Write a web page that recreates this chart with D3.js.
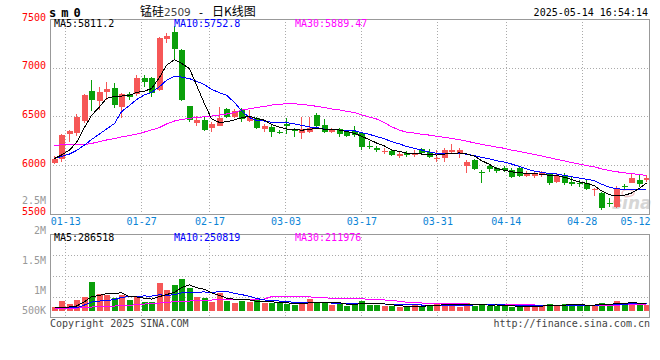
<!DOCTYPE html>
<html>
<head>
<meta charset="utf-8">
<title>锰硅2509 日K线图</title>
<script src="https://cdn.jsdelivr.net/npm/d3@7/dist/d3.min.js"></script>
<style>
    body { margin: 0; background: #fff; }
    text { font-family: "DejaVu Sans Mono", monospace; font-size: 10px; }
</style>
</head>
<body>
<div id="chart"></div>
<script>
//----------------------------DATA------------------------------//
var dates = ["01-09","01-10","01-13","01-14","01-15","01-16","01-17","01-20","01-21","01-22","01-23","01-24","01-27",
    "02-05","02-06","02-07","02-10","02-11","02-12","02-13","02-14","02-17","02-18","02-19","02-20","02-21","02-24","02-25","02-26","02-27","02-28",
    "03-03","03-04","03-05","03-06","03-07","03-10","03-11","03-12","03-13","03-14","03-17","03-18","03-19","03-20","03-21","03-24","03-25","03-26","03-27","03-28","03-31",
    "04-01","04-02","04-03","04-07","04-08","04-09","04-10","04-11","04-14","04-15","04-16","04-17","04-18","04-21","04-22","04-23","04-24","04-25","04-28","04-29","04-30",
    "05-06","05-07","05-08","05-09","05-12","05-13","05-14"];

var opens = [6024, 6059, 6315, 6326, 6452, 6763, 6658, 6753, 6788, 6593,
    6729, 6729, 6891, 6897, 6771, 7291, 7370, 7182, 6606, 6428,
    6462, 6377, 6401, 6572, 6490, 6565, 6452, 6480, 6367, 6393,
    6336, 6420, 6360, 6326, 6336, 6514, 6411, 6336, 6367, 6342,
    6349, 6326, 6195, 6180, 6130, 6140, 6090, 6120, 6100, 6164,
    6137, 6059, 6069, 6137, 6126, 5993, 6051, 5931, 5993, 5972,
    5966, 5949, 5966, 5890, 5887, 5908, 5908, 5828, 5887, 5828,
    5815, 5818, 5750, 5715, 5605, 5565, 5780, 5818, 5846, 5846];
var closes = [6059, 6308, 6352, 6496, 6719, 6668, 6753, 6778, 6616, 6729,
    6702, 6897, 6856, 6737, 7308, 7325, 7189, 6668, 6462, 6462,
    6360, 6418, 6486, 6496, 6558, 6469, 6496, 6377, 6401, 6339,
    6329, 6405, 6349, 6367, 6377, 6401, 6342, 6360, 6318, 6301,
    6308, 6188, 6185, 6150, 6145, 6105, 6110, 6100, 6125, 6126,
    6085, 6075, 6154, 6154, 6154, 6034, 5959, 5925, 5959, 5941,
    5949, 5874, 5890, 5915, 5921, 5931, 5812, 5887, 5818, 5802,
    5810, 5750, 5757, 5555, 5600, 5761, 5775, 5870, 5802, 5863];
var highs = [6096, 6315, 6360, 6521, 6729, 6873, 6804, 6856, 6839, 6737,
    6753, 6925, 6925, 6905, 7318, 7359, 7428, 7192, 6610, 6503,
    6503, 6445, 6593, 6582, 6572, 6582, 6565, 6496, 6421, 6411,
    6360, 6485, 6377, 6490, 6496, 6531, 6469, 6377, 6377, 6360,
    6401, 6330, 6250, 6200, 6170, 6150, 6130, 6140, 6150, 6175,
    6161, 6154, 6172, 6216, 6172, 6051, 6059, 5949, 6007, 5983,
    5990, 5966, 5983, 5938, 5931, 5941, 5921, 5921, 5921, 5880,
    5846, 5846, 5761, 5726, 5658, 5784, 5802, 5921, 5897, 5897];
var lows = [6010, 6034, 6239, 6301, 6431, 6558, 6565, 6668, 6589, 6480,
    6668, 6709, 6804, 6702, 6760, 7257, 7086, 6658, 6442, 6401,
    6346, 6342, 6396, 6488, 6480, 6445, 6445, 6370, 6342, 6285,
    6319, 6320, 6291, 6264, 6326, 6377, 6326, 6326, 6291, 6288,
    6291, 6154, 6161, 6130, 6110, 6090, 6070, 6080, 6085, 6110,
    6069, 6028, 6034, 6126, 6069, 5915, 5949, 5812, 5931, 5921,
    5931, 5863, 5874, 5880, 5870, 5880, 5795, 5818, 5795, 5784,
    5777, 5743, 5681, 5538, 5572, 5555, 5743, 5812, 5777, 5828];
var volumes = [126000, 378000, 252000, 403000, 517000, 1096000, 630000, 580000, 479000, 580000,
    403000, 554000, 328000, 328000, 1058000, 781000, 983000, 1210000, 844000, 517000,
    491000, 340000, 680000, 365000, 302000, 365000, 328000, 403000, 277000, 302000,
    277000, 252000, 214000, 277000, 454000, 340000, 277000, 214000, 239000, 189000,
    302000, 378000, 214000, 214000, 176000, 176000, 126000, 176000, 214000, 176000,
    214000, 252000, 252000, 252000, 151000, 302000, 176000, 252000, 176000, 176000,
    176000, 151000, 151000, 214000, 176000, 176000, 252000, 214000, 252000, 214000,
    176000, 214000, 214000, 302000, 252000, 378000, 252000, 328000, 214000, 214000];

// moving-average values for days whose window starts before the chart
var ma5Head = [6067, 6103, 6154, 6231];
var ma10Head = [6068, 6087, 6113, 6149, 6205, 6262, 6318, 6370, 6426];
var ma30Head = [6205, 6206, 6207, 6208, 6210, 6221, 6241, 6257, 6272, 6288,
    6303, 6318, 6339, 6360, 6385, 6421, 6452, 6467, 6480, 6488,
    6496, 6503, 6514, 6524, 6539, 6565, 6578, 6591, 6601];
var volMa5Head = [126000, 126000, 140000, 176000];
var volMa10Head = [113000, 113000, 113000, 113000, 214000, 328000, 365000, 391000, 416000];
var volMa30Head = [88000, 88000, 88000, 101000, 113000, 139000, 151000, 164000, 176000, 189000,
    202000, 227000, 252000, 277000, 290000, 315000, 340000, 353000, 365000, 378000,
    391000, 403000, 416000, 428000, 428000, 428000, 441000, 441000, 441000];

var tickDates = ["01-13","01-27","02-17","03-03","03-17","03-31","04-14","04-28","05-12"];
var priceTicks = [7500, 7000, 6500, 6000, 5500];
var volTickLabels = ["2.5M", "2M", "1.5M", "1M", "500K"];
var volTickValues = [2500000, 2000000, 1500000, 1000000, 500000];

var RED = "#f65757", GREEN = "#0a9f0a";

//----------------------------SCALES----------------------------//
var left = 50, right = 650,
    pTop = 19, pBottom = 213.7,
    vTop = 234.3, vBottom = 317.6, vBase = 310.7;

var xBand = d3.scaleBand().domain(dates).range([left, right]);
var xGrid = d3.scalePoint().domain(dates).range([left, right]);
var yPrice = d3.scaleLinear().domain([5500, 7500]).range([pBottom, pTop]);
var yVol = d3.scaleLinear().domain([0, 2900000]).range([vBase, 234]);
// the volume tick text sits on its own spacing in the source picture
var yVolLabel = d3.scaleLinear().domain([2500000, 1000000]).range([200, 290]);

var bw = xBand.bandwidth();
function cx(i) { return Math.round(xBand(dates[i]) + bw / 2); }

function movingAvg(arr, n, head) {
    return arr.map(function (v, i) {
        return i < n - 1 ? head[i] : d3.mean(arr.slice(i - n + 1, i + 1));
    });
}
var ma5 = movingAvg(closes, 5, ma5Head),
    ma10 = movingAvg(closes, 10, ma10Head),
    ma30 = movingAvg(closes, 30, ma30Head);
var vma5 = movingAvg(volumes, 5, volMa5Head),
    vma10 = movingAvg(volumes, 10, volMa10Head),
    vma30 = movingAvg(volumes, 30, volMa30Head);

//-----------------------------SVG------------------------------//
var svg = d3.select("#chart").append("svg")
    .attr("width", 660).attr("height", 360)
    .style("display", "block");

//---------------------------GRIDLINES---------------------------//
var grid = svg.append("g")
    .attr("stroke", "#aaa")
    .attr("stroke-dasharray", "1,2")
    .attr("shape-rendering", "crispEdges");

tickDates.slice(0, -1).forEach(function (d) {
    var x = Math.round(xGrid(d)) + 0.5;
    grid.append("line").attr("x1", x).attr("x2", x).attr("y1", pTop).attr("y2", pBottom);
    grid.append("line").attr("x1", x).attr("x2", x).attr("y1", vTop).attr("y2", vBottom);
});
[7000, 6500, 6000].forEach(function (p) {
    var y = Math.round(yPrice(p)) + 0.5;
    grid.append("line").attr("x1", left).attr("x2", right).attr("y1", y).attr("y2", y);
});
[1, 2, 3].forEach(function (k) {
    var y = Math.round(vTop + (vBottom - vTop) * k / 4) + 0.5;
    grid.append("line").attr("x1", left).attr("x2", right).attr("y1", y).attr("y2", y);
});

//---------------------------WATERMARK---------------------------//
svg.append("text")
    .attr("x", 612).attr("y", 209)
    .style("font-family", "DejaVu Sans")
    .style("font-size", "17px")
    .style("font-style", "italic")
    .style("font-weight", "bold")
    .attr("fill", "#d6d6d6")
    .text("sina");
svg.append("ellipse")
    .attr("cx", 628).attr("cy", 193).attr("rx", 6).attr("ry", 3.5)
    .attr("fill", "none").attr("stroke", "#f3c4c4").attr("stroke-width", 1.5);

//----------------------------CANDLES----------------------------//
var idx = d3.range(dates.length);
var candles = svg.append("g").attr("shape-rendering", "crispEdges");

candles.selectAll(".wick")
    .data(idx)
    .enter().append("line")
    .attr("x1", function (i) { return cx(i) + 0.5; })
    .attr("x2", function (i) { return cx(i) + 0.5; })
    .attr("y1", function (i) { return yPrice(highs[i]); })
    .attr("y2", function (i) { return yPrice(lows[i]); })
    .attr("stroke", function (i) { return closes[i] >= opens[i] ? RED : GREEN; });

candles.selectAll(".body")
    .data(idx)
    .enter().append("rect")
    .attr("x", function (i) { return cx(i) - 2.5; })
    .attr("width", 6)
    .attr("y", function (i) { return yPrice(Math.max(opens[i], closes[i])); })
    .attr("height", function (i) {
        return Math.max(1, Math.abs(yPrice(opens[i]) - yPrice(closes[i])));
    })
    .attr("fill", function (i) { return closes[i] >= opens[i] ? RED : GREEN; });

//----------------------------VOLUME-----------------------------//
svg.append("g").attr("shape-rendering", "crispEdges")
    .selectAll("rect")
    .data(idx)
    .enter().append("rect")
    .attr("x", function (i) { return cx(i) - 2.5; })
    .attr("width", 6)
    .attr("y", function (i) { return yVol(volumes[i]); })
    .attr("height", function (i) { return vBase - yVol(volumes[i]); })
    .attr("fill", function (i) { return closes[i] >= opens[i] ? RED : GREEN; });

//-----------------------------LINES-----------------------------//
function drawLine(values, scale, color) {
    var line = d3.line()
        .x(function (d, i) { return cx(i) + 0.5; })
        .y(function (d) { return scale(d); });
    svg.append("path")
        .datum(values)
        .attr("fill", "none")
        .attr("stroke", color)
        .attr("stroke-width", 1)
        .attr("shape-rendering", "crispEdges")
        .attr("d", line);
}
drawLine(ma30, yPrice, "#ff00ff");
drawLine(ma10, yPrice, "#0000ff");
drawLine(ma5, yPrice, "#000000");
drawLine(vma30, yVol, "#ff00ff");
drawLine(vma10, yVol, "#0000ff");
drawLine(vma5, yVol, "#000000");

//-----------------------------FRAMES----------------------------//
svg.append("rect")
    .attr("x", left + 0.5).attr("y", pTop + 0.5)
    .attr("width", right - left - 1).attr("height", Math.round(pBottom - pTop))
    .attr("fill", "none").attr("stroke", "#999").attr("shape-rendering", "crispEdges");
svg.append("rect")
    .attr("x", left + 0.5).attr("y", Math.round(vTop) + 0.5)
    .attr("width", right - left - 1).attr("height", Math.round(vBottom - vTop))
    .attr("fill", "none").attr("stroke", "#999").attr("shape-rendering", "crispEdges");

//------------------------------AXES-----------------------------//
var yAxis = svg.append("g")
    .attr("transform", "translate(" + left + ",0)")
    .call(d3.axisLeft(yPrice).tickValues(priceTicks).tickFormat(d3.format("d"))
        .tickSize(0).tickPadding(4));
yAxis.select(".domain").remove();
yAxis.selectAll("text")
    .attr("y", -2)
    .attr("fill", "#ff0000")
    .style("font-family", "DejaVu Sans Mono")
    .style("font-size", "10px");

var xAxis = svg.append("g")
    .attr("transform", "translate(0," + pBottom + ")")
    .call(d3.axisBottom(xGrid).tickValues(tickDates).tickSize(0).tickPadding(3.8));
xAxis.select(".domain").remove();
xAxis.selectAll("text")
    .attr("fill", "#0b84d6")
    .style("font-family", "DejaVu Sans Mono")
    .style("font-size", "10px");
// keep the last date label inside the frame
xAxis.selectAll(".tick").filter(function (d) { return d === "05-12"; })
    .select("text").attr("text-anchor", "end").attr("x", right - xGrid("05-12"));

svg.append("g").selectAll("text")
    .data(volTickValues)
    .enter().append("text")
    .attr("x", 46)
    .attr("y", function (v) { return Math.min(yVolLabel(v), vBase); })
    .attr("dy", "0.35em")
    .attr("text-anchor", "end")
    .attr("fill", "#999")
    .text(function (v, i) { return volTickLabels[i]; });

//-----------------------------LEGEND----------------------------//
function legend(y, items) {
    items.forEach(function (it) {
        svg.append("text").attr("x", it[0]).attr("y", y).attr("fill", it[2]).text(it[1]);
    });
}
legend(27.3, [[54, "MA5:5811.2", "#000"], [174, "MA10:5752.8", "#0000ff"], [295, "MA30:5889.47", "#ff00ff"]]);
legend(241.3, [[54, "MA5:286518", "#000"], [174, "MA10:250819", "#0000ff"], [295, "MA30:211976", "#ff00ff"]]);

//-----------------------------TITLES----------------------------//
svg.append("text")
    .attr("x", 49).attr("y", 16.5)
    .style("font-size", "12px").style("font-weight", "bold")
    .style("letter-spacing", "5px")
    .text("sm0");

var title = svg.append("text").attr("y", 15.5).attr("fill", "#000");
title.append("tspan").attr("x", 140)
    .style("font-family", "Noto Sans CJK SC").style("font-size", "12px").text("锰硅");
title.append("tspan")
    .style("font-family", "DejaVu Sans").style("font-size", "10.5px").attr("fill", "#444").text("2509");
title.append("tspan").attr("x", 199)
    .style("font-family", "DejaVu Sans").style("font-size", "11px").text("-");
title.append("tspan").attr("x", 212)
    .style("font-family", "Noto Sans CJK SC").style("font-size", "12px").text("日K线图");

svg.append("text")
    .attr("x", 648).attr("y", 15.5).attr("text-anchor", "end")
    .text("2025-05-14 16:54:14");

svg.append("text").attr("x", 50).attr("y", 327).attr("fill", "#444")
    .text("Copyright 2025 SINA.COM");
svg.append("text").attr("x", 650).attr("y", 327).attr("fill", "#444").attr("text-anchor", "end")
    .text("http://finance.sina.com.cn");
</script>
</body>
</html>
